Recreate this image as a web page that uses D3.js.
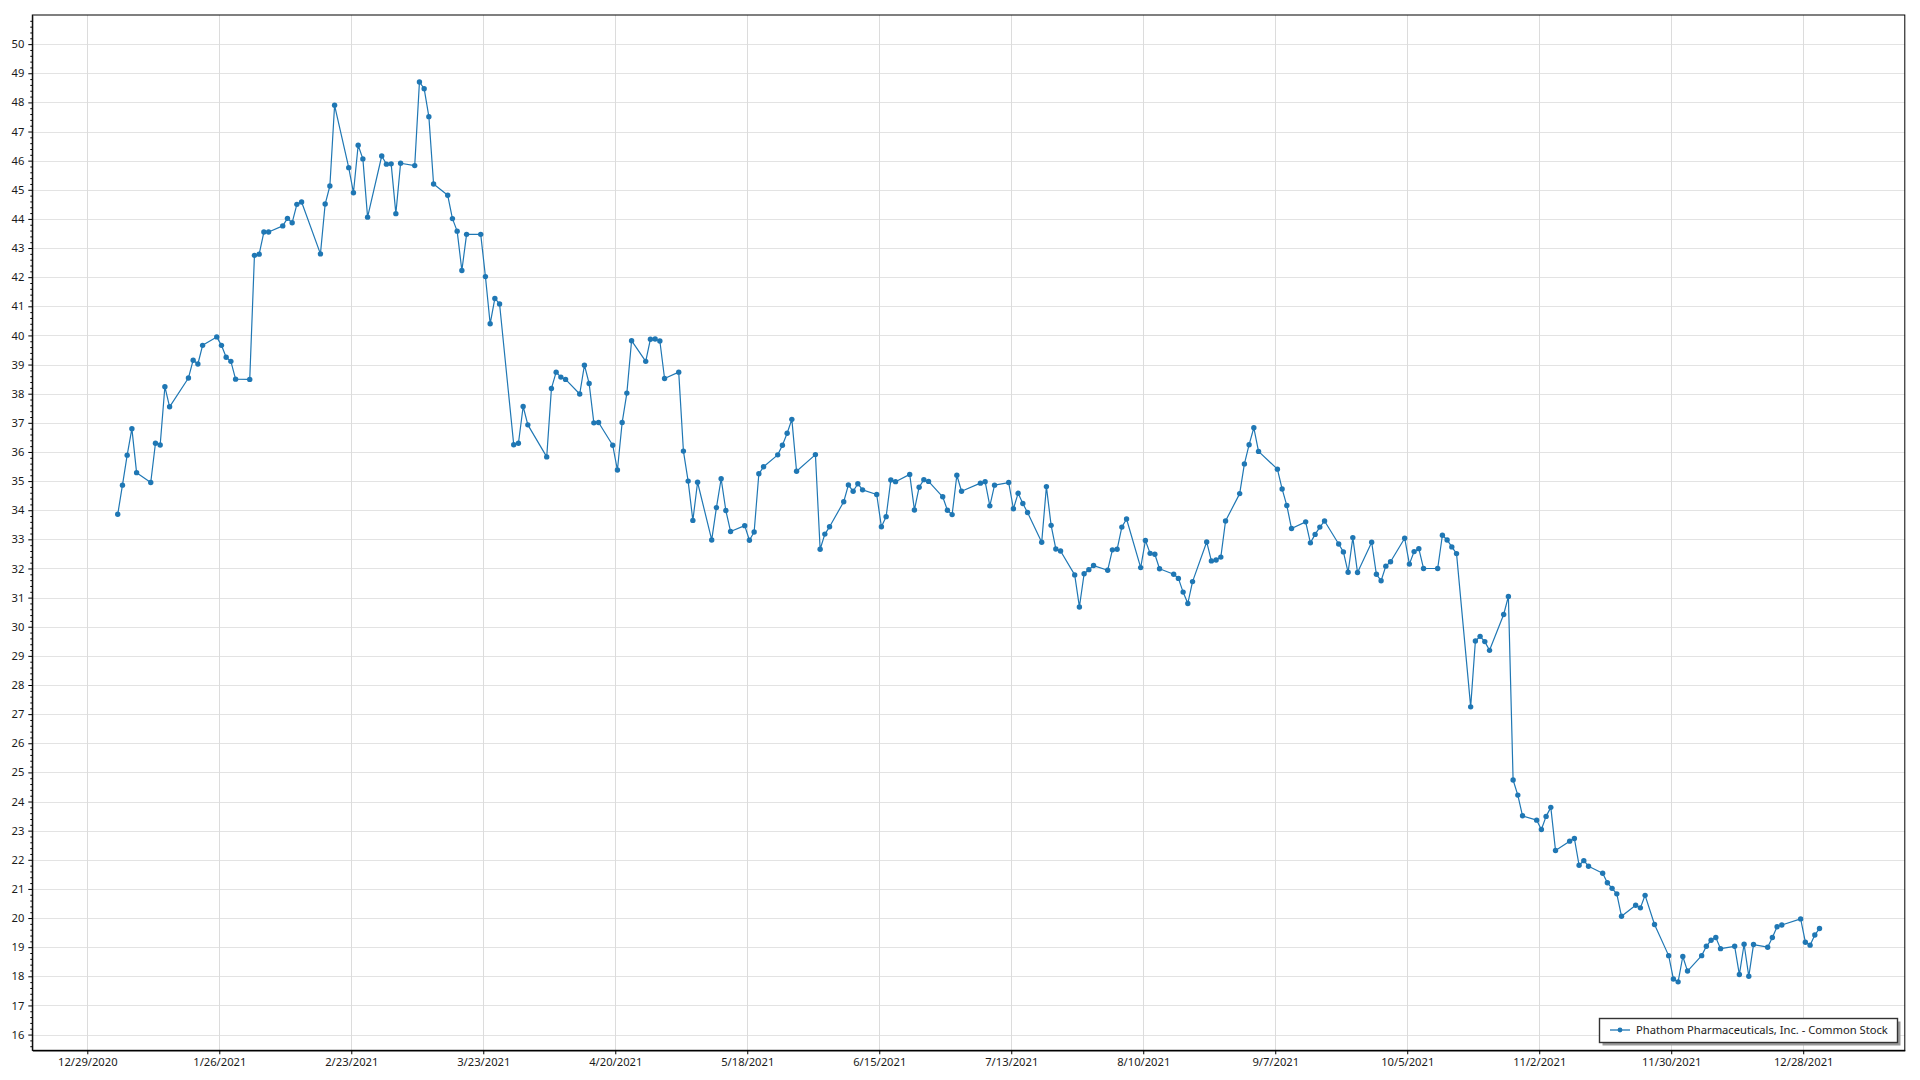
<!DOCTYPE html>
<html><head><meta charset="utf-8">
<script src="https://cdn.jsdelivr.net/npm/d3@7"></script>
<style>
body{margin:0;background:#fff;}
text{font-family:"Noto Sans",sans-serif;}
</style>
</head><body>
<svg id="chart" width="1920" height="1080"></svg>
<script>
const seriesName = "Phathom Pharmaceuticals, Inc. - Common Stock";

const dates = [
"2021-01-04","2021-01-05","2021-01-06","2021-01-07","2021-01-08","2021-01-11","2021-01-12","2021-01-13","2021-01-14","2021-01-15",
"2021-01-19","2021-01-20","2021-01-21","2021-01-22","2021-01-25","2021-01-26","2021-01-27","2021-01-28","2021-01-29",
"2021-02-01","2021-02-02","2021-02-03","2021-02-04","2021-02-05","2021-02-08","2021-02-09","2021-02-10","2021-02-11","2021-02-12",
"2021-02-16","2021-02-17","2021-02-18","2021-02-19","2021-02-22","2021-02-23","2021-02-24","2021-02-25","2021-02-26",
"2021-03-01","2021-03-02","2021-03-03","2021-03-04","2021-03-05","2021-03-08","2021-03-09","2021-03-10","2021-03-11","2021-03-12",
"2021-03-15","2021-03-16","2021-03-17","2021-03-18","2021-03-19","2021-03-22","2021-03-23","2021-03-24","2021-03-25","2021-03-26",
"2021-03-29","2021-03-30","2021-03-31",
"2021-04-01","2021-04-05","2021-04-06","2021-04-07","2021-04-08","2021-04-09","2021-04-12","2021-04-13","2021-04-14","2021-04-15","2021-04-16",
"2021-04-19","2021-04-20","2021-04-21","2021-04-22","2021-04-23","2021-04-26","2021-04-27","2021-04-28","2021-04-29","2021-04-30",
"2021-05-03","2021-05-04","2021-05-05","2021-05-06","2021-05-07","2021-05-10","2021-05-11","2021-05-12","2021-05-13","2021-05-14",
"2021-05-17","2021-05-18","2021-05-19","2021-05-20","2021-05-21","2021-05-24","2021-05-25","2021-05-26","2021-05-27","2021-05-28",
"2021-06-01","2021-06-02","2021-06-03","2021-06-04","2021-06-07","2021-06-08","2021-06-09","2021-06-10","2021-06-11",
"2021-06-14","2021-06-15","2021-06-16","2021-06-17","2021-06-18","2021-06-21","2021-06-22","2021-06-23","2021-06-24","2021-06-25",
"2021-06-28","2021-06-29","2021-06-30",
"2021-07-01","2021-07-02","2021-07-06","2021-07-07","2021-07-08","2021-07-09","2021-07-12","2021-07-13","2021-07-14","2021-07-15","2021-07-16",
"2021-07-19","2021-07-20","2021-07-21","2021-07-22","2021-07-23","2021-07-26","2021-07-27","2021-07-28","2021-07-29","2021-07-30",
"2021-08-02","2021-08-03","2021-08-04","2021-08-05","2021-08-06","2021-08-09","2021-08-10","2021-08-11","2021-08-12","2021-08-13",
"2021-08-16","2021-08-17","2021-08-18","2021-08-19","2021-08-20","2021-08-23","2021-08-24","2021-08-25","2021-08-26","2021-08-27",
"2021-08-30","2021-08-31",
"2021-09-01","2021-09-02","2021-09-03","2021-09-07","2021-09-08","2021-09-09","2021-09-10","2021-09-13","2021-09-14","2021-09-15","2021-09-16","2021-09-17",
"2021-09-20","2021-09-21","2021-09-22","2021-09-23","2021-09-24","2021-09-27","2021-09-28","2021-09-29","2021-09-30",
"2021-10-01","2021-10-04","2021-10-05","2021-10-06","2021-10-07","2021-10-08","2021-10-11","2021-10-12","2021-10-13","2021-10-14","2021-10-15",
"2021-10-18","2021-10-19","2021-10-20","2021-10-21","2021-10-22","2021-10-25","2021-10-26","2021-10-27","2021-10-28","2021-10-29",
"2021-11-01","2021-11-02","2021-11-03","2021-11-04","2021-11-05","2021-11-08","2021-11-09","2021-11-10","2021-11-11","2021-11-12",
"2021-11-15","2021-11-16","2021-11-17","2021-11-18","2021-11-19","2021-11-22","2021-11-23","2021-11-24","2021-11-26","2021-11-29","2021-11-30",
"2021-12-01","2021-12-02","2021-12-03","2021-12-06","2021-12-07","2021-12-08","2021-12-09","2021-12-10","2021-12-13","2021-12-14","2021-12-15",
"2021-12-16","2021-12-17","2021-12-20","2021-12-21","2021-12-22","2021-12-23","2021-12-27","2021-12-28","2021-12-29","2021-12-30","2021-12-31"
];

const prices = [
33.86,34.86,35.89,36.80,35.29,34.95,36.30,36.24,38.24,37.55,
38.54,39.15,39.02,39.66,39.95,39.66,39.25,39.11,38.50,
38.49,42.75,42.79,43.55,43.55,43.76,44.02,43.87,44.50,44.58,
42.80,44.51,45.13,47.90,45.76,44.90,46.53,46.06,44.06,
46.16,45.88,45.89,44.18,45.91,45.83,48.70,48.47,47.51,45.20,
44.81,44.01,43.58,42.23,43.47,43.47,42.02,40.40,41.27,41.08,
36.25,36.30,37.56,
36.93,35.83,38.18,38.74,38.57,38.49,37.99,38.98,38.35,37.00,37.01,
36.23,35.38,37.01,38.02,39.82,39.11,39.87,39.88,39.81,38.52,
38.74,36.03,35.00,33.65,34.96,32.98,34.09,35.08,33.99,33.27,
33.47,32.97,33.25,35.25,35.49,35.90,36.23,36.64,37.12,35.34,
35.91,32.66,33.18,33.43,34.29,34.87,34.65,34.91,34.70,
34.54,33.43,33.78,35.04,34.98,35.23,34.01,34.79,35.05,34.99,
34.46,34.00,33.85,
35.20,34.65,34.93,34.98,34.15,34.86,34.95,34.05,34.58,34.23,33.92,
32.90,34.81,33.48,32.67,32.60,31.78,30.68,31.82,31.96,32.10,
31.94,32.64,32.66,33.42,33.70,32.03,32.96,32.52,32.49,31.99,
31.80,31.66,31.19,30.80,31.55,32.91,32.26,32.29,32.39,33.63,
34.57,35.59,
36.25,36.83,36.02,35.41,34.73,34.16,33.37,33.60,32.88,33.17,33.42,33.63,
32.84,32.57,31.87,33.06,31.86,32.90,31.80,31.58,32.08,
32.23,33.04,32.15,32.58,32.68,32.00,32.00,33.14,32.98,32.74,32.51,
27.25,29.51,29.67,29.49,29.19,30.42,31.04,24.74,24.22,23.51,
23.36,23.04,23.49,23.80,22.32,22.64,22.73,21.81,21.97,21.78,
21.54,21.21,21.02,20.83,20.06,20.44,20.35,20.78,19.78,18.71,17.91,
17.81,18.68,18.18,18.71,19.03,19.24,19.33,18.95,19.03,18.06,19.10,
18.00,19.09,19.00,19.33,19.70,19.76,19.97,19.17,19.07,19.42,19.64
];

const xTickLabels = ["12/29/2020","1/26/2021","2/23/2021","3/23/2021","4/20/2021","5/18/2021","6/15/2021",
  "7/13/2021","8/10/2021","9/7/2021","10/5/2021","11/2/2021","11/30/2021","12/28/2021"];
const yTickValues = [16,17,18,19,20,21,22,23,24,25,26,27,28,29,30,31,32,33,34,35,36,37,38,39,40,41,42,43,44,45,46,47,48,49,50];

const color = "#1f77b4";
const L = 32.3, T = 15, R = 1904.8, B = 1050.3;
const fontSize = 11.2;

const parseData = d3.timeParse("%Y-%m-%dT%H");
const parseTick = d3.timeParse("%m/%d/%Y");
const fmtTick = d3.timeFormat("%-m/%-d/%Y");

const data = dates.map((d, i) => ({date: parseData(d + "T11"), value: prices[i]}));
const xTicks = xTickLabels.map(parseTick);

const x = d3.scaleTime()
  .domain([new Date(2020, 11, 17, 8), new Date(2022, 0, 18, 13, 12)])
  .range([L, R]);
const y = d3.scaleLinear().domain([15.46, 51.0]).range([B, T]);

const svg = d3.select("#chart");
svg.append("rect").attr("width", 1920).attr("height", 1080).attr("fill", "#fff");

// gridlines
svg.append("g").selectAll("line").data(yTickValues).join("line")
  .attr("x1", L).attr("x2", R)
  .attr("y1", d => Math.round(y(d)) + 0.5).attr("y2", d => Math.round(y(d)) + 0.5)
  .attr("stroke", "#e3e3e3").attr("stroke-width", 1);
svg.append("g").selectAll("line").data(xTicks).join("line")
  .attr("y1", T).attr("y2", B)
  .attr("x1", d => Math.round(x(d)) + 0.5).attr("x2", d => Math.round(x(d)) + 0.5)
  .attr("stroke", "#dcdcdc").attr("stroke-width", 1);

// series
const line = d3.line().x(d => x(d.date)).y(d => y(d.value));
svg.append("path").datum(data)
  .attr("fill", "none").attr("stroke", color).attr("stroke-width", 1.2)
  .attr("stroke-linejoin", "round").attr("d", line);
svg.append("g").selectAll("circle").data(data).join("circle")
  .attr("cx", d => x(d.date)).attr("cy", d => y(d.value)).attr("r", 2.7)
  .attr("fill", color);

// plot frame
svg.append("rect").attr("x", L).attr("y", T).attr("width", R - L).attr("height", B - T)
  .attr("fill", "none").attr("stroke", "#000").attr("stroke-width", 1);

// y axis
const yAxis = d3.axisLeft(y).tickValues(yTickValues).tickSize(4).tickSizeOuter(0).tickPadding(4).tickFormat(d3.format("d"));
const gy = svg.append("g").attr("transform", `translate(${L},0)`).call(yAxis);
const minor = d3.range(15.6, 51.0, 0.2).filter(v => Math.abs(v - Math.round(v)) > 0.05);
const gym = svg.append("g").attr("transform", `translate(${L},0)`)
  .call(d3.axisLeft(y).tickValues(minor).tickSize(2).tickSizeOuter(0).tickFormat(""));
gym.select(".domain").remove();

// x axis
const xAxis = d3.axisBottom(x).tickValues(xTicks).tickSize(4).tickSizeOuter(0).tickPadding(4).tickFormat(fmtTick);
const gx = svg.append("g").attr("transform", `translate(0,${B})`).call(xAxis);
gx.select(".domain").attr("stroke-width", 1.6);

[gy, gx].forEach(g => {
  g.selectAll("text").attr("font-family", '"Noto Sans", sans-serif')
    .attr("font-size", fontSize).attr("fill", "#1a1a1a");
  g.selectAll(".tick line").attr("stroke", "#000");
});
gy.select(".domain").attr("stroke", "#000");
gym.selectAll(".tick line").attr("stroke", "#000");

// legend
const lg = svg.append("g");
const lx = 1599.5, ly = 1018.5, lw = 298, lh = 24;
lg.append("rect").attr("x", lx + 3).attr("y", ly + 3).attr("width", lw).attr("height", lh)
  .attr("fill", "#9a9a9a");
lg.append("rect").attr("x", lx).attr("y", ly).attr("width", lw).attr("height", lh)
  .attr("fill", "#fff").attr("stroke", "#333").attr("stroke-width", 1.4);
lg.append("line").attr("x1", lx + 10.5).attr("x2", lx + 30.5)
  .attr("y1", ly + 11.5).attr("y2", ly + 11.5)
  .attr("stroke", color).attr("stroke-width", 2).attr("stroke-opacity", 0.65);
lg.append("circle").attr("cx", lx + 20.5).attr("cy", ly + 11.5).attr("r", 2.4).attr("fill", color);
const lt = lg.append("text").attr("x", lx + 36.5).attr("y", ly + 15.8)
  .attr("font-size", fontSize).attr("fill", "#1a1a1a").text(seriesName);
const w = lt.node().getComputedTextLength();
lt.attr("font-size", fontSize * 252 / w);
</script>
</body></html>
